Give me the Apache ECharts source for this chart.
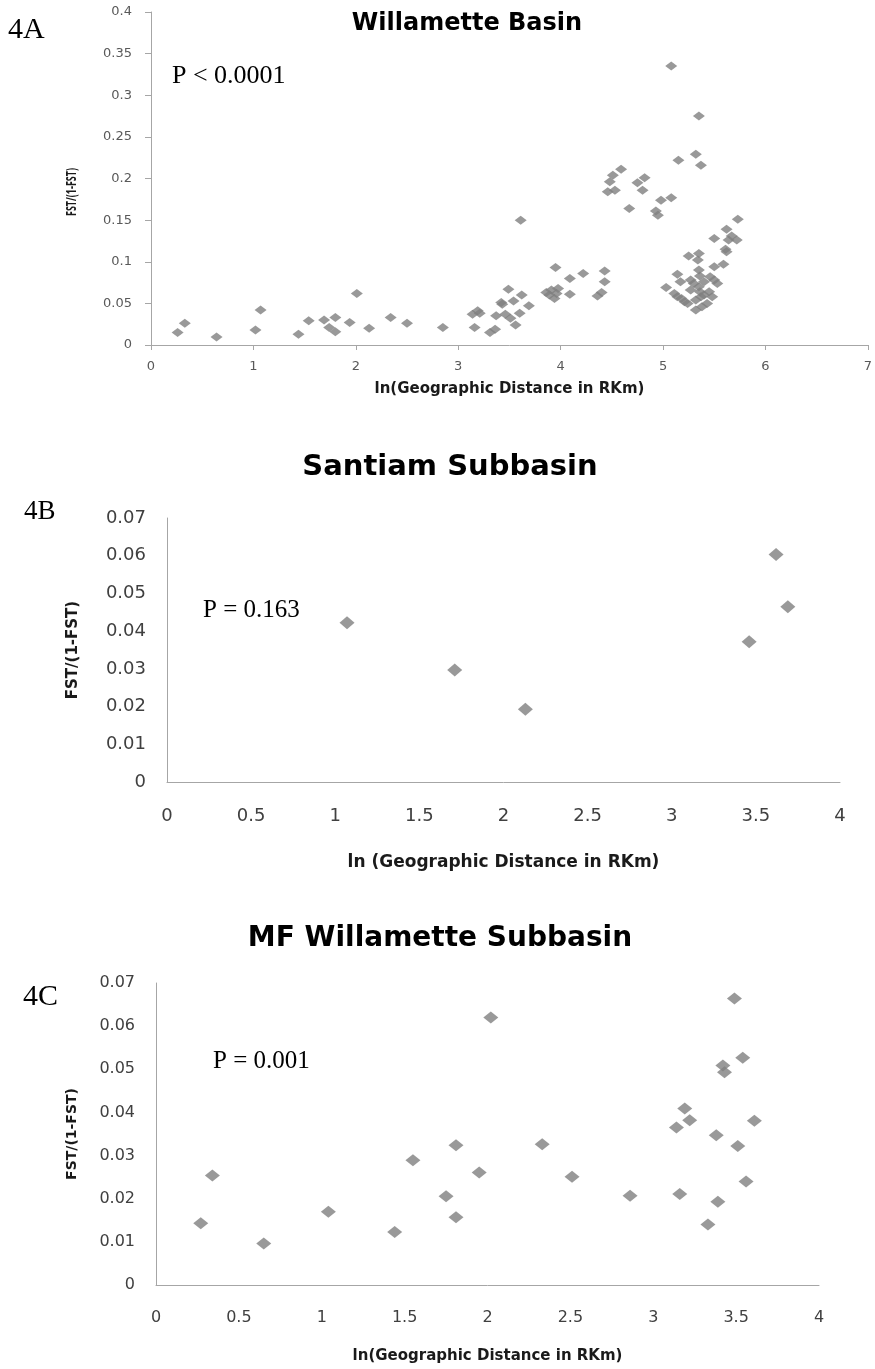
<!DOCTYPE html>
<html>
<head>
<meta charset="utf-8">
<script src="https://cdn.jsdelivr.net/npm/echarts@6/dist/echarts.min.js"></script>
<style>
  html, body { margin: 0; padding: 0; background: #fff; }
  #chart_view { width: 875px; height: 1369px; }
</style>
</head>
<body>
<div id="chart_view"></div>
<script>
// 4A - Willamette Basin, ln(RKm) vs FST/(1-FST)
var basinX = [0.26, 0.33, 0.64, 1.02, 1.07, 1.44, 1.54, 1.69, 1.74, 1.80, 1.80, 1.94, 2.01, 2.13, 2.34, 2.50, 2.85,
  3.14, 3.19, 3.21, 3.16, 3.31, 3.36, 3.37, 3.42, 3.43, 3.49, 3.46, 3.51, 3.54, 3.56, 3.60, 3.62, 3.69, 3.61,
  3.86, 3.91, 3.89, 3.94, 3.975, 3.96, 3.95, 4.09, 4.09, 4.22, 4.43, 4.43, 4.36, 4.40,
  4.59, 4.51, 4.48, 4.46, 4.53, 4.67, 4.75, 4.82, 4.80, 4.98, 5.08, 4.93, 4.95, 5.08, 5.35, 5.32, 5.15, 5.37,
  5.73, 5.62, 5.50, 5.67, 5.72, 5.64, 5.61, 5.62, 5.25, 5.35, 5.34, 5.59, 5.50, 5.35, 5.14, 5.03, 5.17, 5.27,
  5.40, 5.46, 5.53, 5.35, 5.14, 5.21, 5.27, 5.32, 5.37, 5.32, 5.43, 5.48, 5.38, 5.11, 5.45, 5.18, 5.24, 5.36,
  5.36, 5.30, 5.50, 5.40];
var basinY = [0.015, 0.026, 0.0096, 0.018, 0.042, 0.013, 0.029, 0.030, 0.021, 0.033, 0.016, 0.027, 0.062, 0.020, 0.033, 0.026, 0.021,
  0.037, 0.041, 0.038, 0.021, 0.015, 0.019, 0.035, 0.051, 0.049, 0.067, 0.037, 0.032, 0.053, 0.024, 0.038, 0.060, 0.047, 0.150,
  0.063, 0.066, 0.060, 0.056, 0.068, 0.062, 0.093, 0.080, 0.061, 0.086, 0.089, 0.076, 0.059, 0.063,
  0.211, 0.204, 0.196, 0.184, 0.186, 0.164, 0.195, 0.201, 0.186, 0.174, 0.177, 0.161, 0.156, 0.335, 0.275, 0.229, 0.222, 0.216,
  0.151, 0.139, 0.128, 0.131, 0.126, 0.126, 0.115, 0.112, 0.107, 0.110, 0.102, 0.097, 0.094, 0.090, 0.085, 0.069, 0.076, 0.078,
  0.076, 0.082, 0.074, 0.070, 0.058, 0.052, 0.066, 0.054, 0.058, 0.042, 0.050, 0.058, 0.046, 0.062, 0.064, 0.056, 0.050, 0.083,
  0.064, 0.074, 0.078, 0.060];

// 4B - Santiam Subbasin
var santiamX = [1.07, 1.71, 2.13, 3.46, 3.62, 3.69];
var santiamY = [0.0422, 0.0297, 0.0193, 0.0372, 0.0603, 0.0465];

// 4C - MF Willamette Subbasin
var mfX = [0.27, 0.34, 0.65, 1.04, 1.44, 1.55, 1.75, 1.81, 1.81, 1.95, 2.02, 2.33, 2.51, 2.86,
  3.14, 3.16, 3.19, 3.22, 3.33, 3.38, 3.39, 3.42, 3.43, 3.49, 3.51, 3.54, 3.56, 3.61];
var mfY = [0.0143, 0.0254, 0.0096, 0.0170, 0.0123, 0.0289, 0.0206, 0.0324, 0.0157, 0.0261, 0.0620, 0.0326, 0.0251, 0.0207,
  0.0365, 0.0211, 0.0409, 0.0382, 0.0140, 0.0347, 0.0193, 0.0509, 0.0493, 0.0664, 0.0322, 0.0527, 0.0240, 0.0381];

var yName = 'FST/(1-FST)';

function pairs(xs, ys) {
  return xs.map(function (x, i) { return [x, ys[i]]; });
}

var sans = 'DejaVu Sans';
var serif = 'Liberation Serif';
var axisGrey = '#a6a6a6';
var markerGrey = '#7f7f7f';

function label(text, x, y, size, family, weight, align) {
  return {
    type: 'text', x: x, y: y, silent: true,
    style: {
      text: text, fontSize: size, fontFamily: family, fontWeight: weight || 'normal',
      fill: '#000', align: align || 'left', verticalAlign: 'middle'
    }
  };
}

var myChart = echarts.init(document.getElementById('chart_view'));

var option = {
  animation: false,
  backgroundColor: '#fff',
  grid: [
    { left: 151, top: 12, width: 720, height: 333 },
    { left: 167, top: 518, width: 673, height: 264 },
    { left: 156, top: 983, width: 663, height: 302 }
  ],
  xAxis: [
    {
      gridIndex: 0, type: 'value', min: 0, max: 7, interval: 1,
      splitLine: { show: false },
      axisLine: { lineStyle: { color: axisGrey } },
      axisTick: { show: true, length: 5, lineStyle: { color: axisGrey } },
      axisLabel: { margin: 15, fontSize: 13, fontFamily: sans, color: '#595959' },
      name: 'ln(Geographic Distance in RKm)', nameLocation: 'middle', nameGap: 37,
      nameTextStyle: { fontSize: 15, fontFamily: sans, fontWeight: 'bold', color: '#1a1a1a' }
    },
    {
      gridIndex: 1, type: 'value', min: 0, max: 4, interval: 0.5,
      splitLine: { show: false },
      axisLine: { lineStyle: { color: axisGrey } },
      axisTick: { show: false },
      axisLabel: { margin: 25, fontSize: 18, fontFamily: sans, color: '#404040' },
      name: 'ln (Geographic Distance in RKm)', nameLocation: 'middle', nameGap: 72,
      nameTextStyle: { fontSize: 17, fontFamily: sans, fontWeight: 'bold', color: '#1a1a1a' }
    },
    {
      gridIndex: 2, type: 'value', min: 0, max: 4, interval: 0.5,
      splitLine: { show: false },
      axisLine: { lineStyle: { color: axisGrey } },
      axisTick: { show: false },
      axisLabel: { margin: 25, fontSize: 16, fontFamily: sans, color: '#404040' },
      name: 'ln(Geographic Distance in RKm)', nameLocation: 'middle', nameGap: 64,
      nameTextStyle: { fontSize: 15, fontFamily: sans, fontWeight: 'bold', color: '#1a1a1a' }
    }
  ],
  yAxis: [
    {
      // name of this axis is drawn as a graphic below (stretched like the original)
      gridIndex: 0, type: 'value', min: 0, max: 0.4, interval: 0.05,
      splitLine: { show: false },
      axisLine: { show: true, lineStyle: { color: axisGrey } },
      axisTick: { show: true, length: 6, lineStyle: { color: axisGrey } },
      axisLabel: { margin: 19, fontSize: 13, fontFamily: sans, color: '#595959' }
    },
    {
      gridIndex: 1, type: 'value', min: 0, max: 0.07, interval: 0.01,
      splitLine: { show: false },
      axisLine: { show: true, lineStyle: { color: axisGrey } },
      axisTick: { show: false },
      axisLabel: { margin: 21, fontSize: 18, fontFamily: sans, color: '#404040' },
      name: yName, nameLocation: 'middle', nameGap: 86,
      nameTextStyle: { fontSize: 15, fontFamily: sans, fontWeight: 'bold', color: '#1a1a1a' }
    },
    {
      gridIndex: 2, type: 'value', min: 0, max: 0.07, interval: 0.01,
      splitLine: { show: false },
      axisLine: { show: true, lineStyle: { color: axisGrey } },
      axisTick: { show: false },
      axisLabel: { margin: 21, fontSize: 16, fontFamily: sans, color: '#404040' },
      name: yName, nameLocation: 'middle', nameGap: 77,
      nameTextStyle: { fontSize: 14, fontFamily: sans, fontWeight: 'bold', color: '#1a1a1a' }
    }
  ],
  series: [
    {
      name: 'Willamette Basin', type: 'scatter', xAxisIndex: 0, yAxisIndex: 0,
      symbol: 'diamond', symbolSize: [12, 9],
      itemStyle: { color: markerGrey },
      data: pairs(basinX, basinY)
    },
    {
      name: 'Santiam Subbasin', type: 'scatter', xAxisIndex: 1, yAxisIndex: 1,
      symbol: 'diamond', symbolSize: [15, 13],
      itemStyle: { color: markerGrey },
      data: pairs(santiamX, santiamY)
    },
    {
      name: 'MF Willamette Subbasin', type: 'scatter', xAxisIndex: 2, yAxisIndex: 2,
      symbol: 'diamond', symbolSize: [15, 12],
      itemStyle: { color: markerGrey },
      data: pairs(mfX, mfY)
    }
  ],
  graphic: [
    label('Willamette Basin', 467, 24, 24, sans, 'bold', 'center'),
    label('4A', 8, 30, 30, serif),
    label('P < 0.0001', 172, 76, 26, serif),
    {
      type: 'text', x: 72, y: 192, rotation: Math.PI / 2, scaleY: 1.6, silent: true,
      style: {
        text: yName, fontSize: 9, fontFamily: 'Open Sans', fontWeight: 'bold',
        fill: '#1a1a1a', align: 'center', verticalAlign: 'middle'
      }
    },

    label('Santiam Subbasin', 450, 467, 29, sans, 'bold', 'center'),
    label('4B', 24, 512, 27, serif),
    label('P = 0.163', 203, 610, 25, serif),

    label('MF Willamette Subbasin', 440, 939, 28, sans, 'bold', 'center'),
    label('4C', 23, 997, 30, serif),
    label('P = 0.001', 213, 1061, 25, serif)
  ]
};

myChart.setOption(option);
</script>
</body>
</html>
